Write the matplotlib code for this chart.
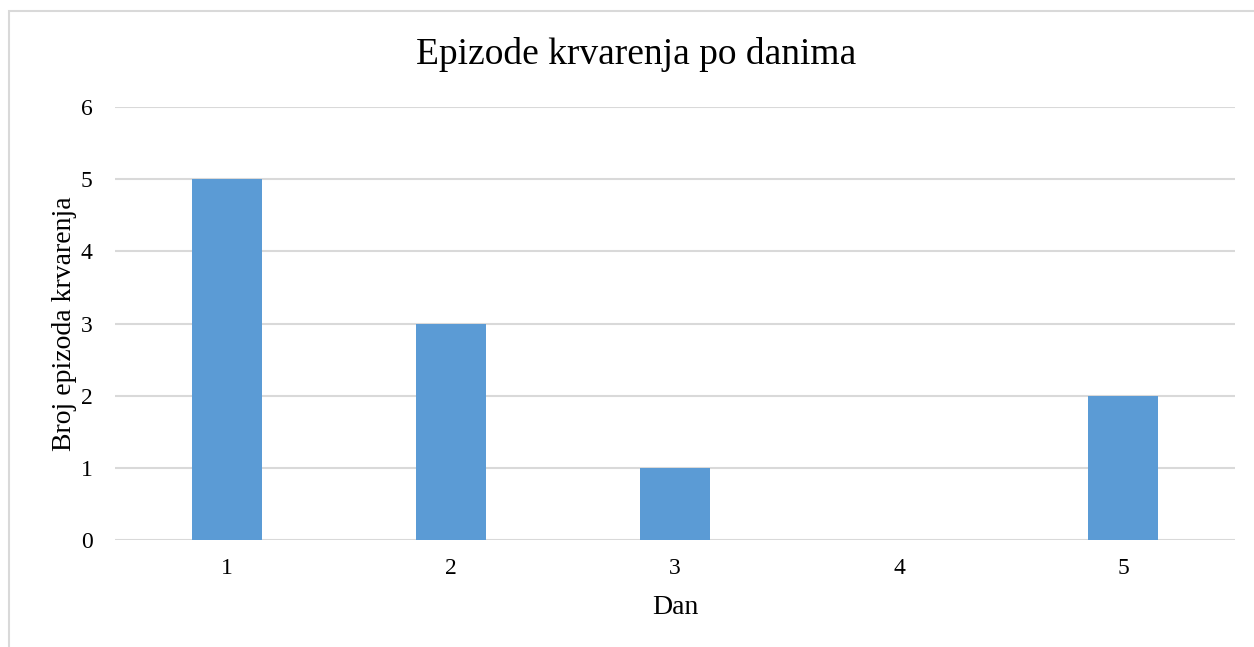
import matplotlib.pyplot as plt
from matplotlib.patches import Rectangle

days = [1, 2, 3, 4, 5]
episodes = [5, 3, 1, 0, 2]
yticks = [0, 1, 2, 3, 4, 5, 6]

plt.rcParams['font.family'] = ['Liberation Serif', 'DejaVu Serif']

fig = plt.figure(figsize=(12.54, 6.47), dpi=100)
ax = fig.add_axes([115 / 1254, 1 - 540 / 647, 1120 / 1254, 433 / 647])

ax.bar(days, episodes, width=0.3125, color='#5B9BD5', zorder=3)

ax.set_xlim(0.5, 5.5)
ax.set_ylim(0, 6)
ax.set_xticks(days)
ax.set_yticks(yticks)
ax.grid(axis='y', color='#D9D9D9', linewidth=1.5, zorder=0)
for s in ax.spines.values():
    s.set_visible(False)
ax.tick_params(length=0, labelsize=17, colors='black')
ax.tick_params(axis='x', pad=13)
ax.tick_params(axis='y', pad=16)

ax.set_xlabel('Dan', fontsize=20, labelpad=11.5)
ax.set_ylabel('Broj epizoda krvarenja', fontsize=20, labelpad=3)
fig.text(636 / 1254, 1 - 55 / 647, 'Epizode krvarenja po danima',
         fontsize=27, ha='center', va='center')

# outer chart frame
fig.patches.append(Rectangle((8.5 / 1254, -0.1), 1.2, 1 - 10.5 / 647 + 0.1,
                             transform=fig.transFigure, fill=False,
                             edgecolor='#D9D9D9', linewidth=1.5))

fig.savefig('out.png', dpi=100)
